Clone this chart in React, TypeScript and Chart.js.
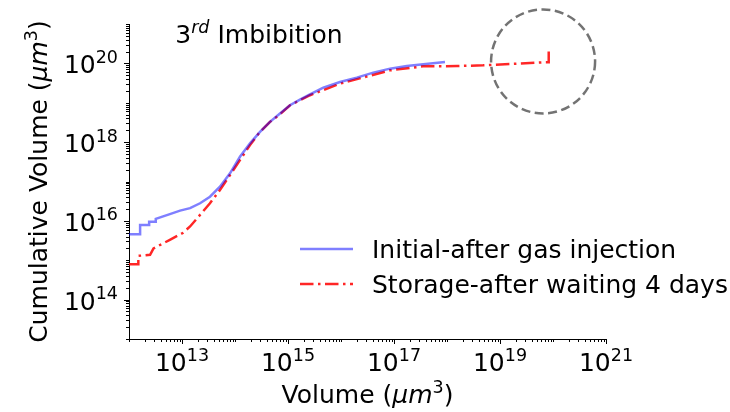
import React, { useEffect, useRef } from "react";
import { Chart, registerables } from "chart.js";

Chart.register(...registerables);

// ---- data ----
const initialVolume = [
  1.0e12, 1.62e12, 1.62e12, 2.4e12, 2.4e12, 3.2e12, 3.2e12, 5.9e12, 9.2e12, 1.42e13,
  2.19e13, 3.37e13, 5.2e13, 8.05e13, 1.24e14, 1.92e14, 2.96e14, 4.57e14, 7.06e14, 1.09e15,
  1.68e15, 2.6e15, 4.63e15, 9.57e15, 1.98e16, 4.06e16, 8.41e16, 1.74e17, 3.57e17, 9.16e17,
];
const initialCumulative = [
  4.6e15, 4.6e15, 7.9e15, 7.9e15, 9.5e15, 9.5e15, 1.12e16, 1.48e16, 1.82e16, 2.1e16,
  2.8e16, 4.1e16, 7.4e16, 1.61e17, 4.25e17, 9.3e17, 1.82e18, 3.27e18, 5.33e18, 8.65e18,
  1.2e19, 1.64e19, 2.43e19, 3.37e19, 4.35e19, 5.82e19, 7.35e19, 8.55e19, 9.44e19, 1.08e20,
];
const storageVolume = [
  1.0e12, 1.5e12, 1.5e12, 2.5e12, 2.9e12, 5.9e12, 1.05e13, 1.42e13, 2.19e13, 3.37e13,
  5.2e13, 8.05e13, 1.24e14, 1.92e14, 2.96e14, 4.57e14, 7.06e14, 1.09e15, 2.6e15, 9.57e15,
  8.41e16, 3.52e17, 1.55e18, 4.8e18, 7.1e19, 8.3e19, 8.3e19,
];
const storageCumulative = [
  7.9e14, 7.9e14, 1.29e15, 1.38e15, 2.0e15, 3.3e15, 5.0e15, 7.2e15, 1.42e16, 2.8e16,
  6.1e16, 1.46e17, 3.5e17, 8.4e17, 1.82e18, 3.27e18, 5.1e18, 8.65e18, 1.55e19, 3.06e19,
  6.65e19, 8.4e19, 8.55e19, 8.9e19, 1.07e20, 1.07e20, 2.55e20,
];
const xLabelExponents = [13, 15, 17, 19, 21];
const yLabelExponents = [14, 16, 18, 20];
const seriesNames = ["Initial-after gas injection", "Storage-after waiting 4 days"];
const highlightVolume = 6.5e19;
const highlightCumulative = 1.12e20;

// ---- styles ----
const FONT = '"DejaVu Sans"';
const SIZE = 25;
const BLUE = "rgba(0,0,255,0.5)";
const RED = "rgba(255,0,0,0.85)";
const RED_DASH = [13.5, 4.5, 2.5, 4.5];

type Seg = { t: string; it?: boolean; sup?: boolean };

function segFont(s: Seg) {
  return `${s.it ? "italic " : ""}${s.sup ? SIZE * 0.7 : SIZE}px ${FONT}`;
}

function drawRich(ctx: CanvasRenderingContext2D, segs: Seg[], x: number, y: number, align: "left" | "center" | "right") {
  ctx.textAlign = "left";
  ctx.textBaseline = "alphabetic";
  const widths = segs.map((s) => {
    ctx.font = segFont(s);
    return ctx.measureText(s.t).width;
  });
  const total = widths.reduce((a, b) => a + b, 0);
  let cx = align === "left" ? x : align === "center" ? x - total / 2 : x - total;
  segs.forEach((s, i) => {
    ctx.font = segFont(s);
    ctx.fillText(s.t, cx, y - (s.sup ? SIZE * 0.42 : 0));
    cx += widths[i];
  });
}

const decorations = {
  id: "decorations",
  afterDraw(chart: any) {
    const { ctx, chartArea: a, scales } = chart;
    const xs = scales.x;
    const ys = scales.y;
    ctx.save();
    ctx.strokeStyle = "#000";
    ctx.fillStyle = "#000";
    ctx.lineWidth = 1;

    // tick marks (major at labelled decades, minor elsewhere)
    for (let e = 12; e <= 21; e++) {
      for (let m = 1; m <= 9; m++) {
        const v = m * Math.pow(10, e);
        if (v >= xs.min * 0.999 && v <= xs.max * 1.001) {
          const px = Math.round(xs.getPixelForValue(v)) + 0.5;
          const len = m === 1 && xLabelExponents.includes(e) ? 5 : 3;
          ctx.beginPath();
          ctx.moveTo(px, a.bottom);
          ctx.lineTo(px, a.bottom + len);
          ctx.stroke();
        }
        if (v >= ys.min * 0.999 && v <= ys.max * 1.001) {
          const py = Math.round(ys.getPixelForValue(v)) + 0.5;
          const len = m === 1 && yLabelExponents.includes(e) ? 5 : 3;
          ctx.beginPath();
          ctx.moveTo(a.left, py);
          ctx.lineTo(a.left - len, py);
          ctx.stroke();
        }
      }
    }

    // tick labels
    ctx.fillStyle = "#000";
    xLabelExponents.forEach((e) => {
      const px = xs.getPixelForValue(Math.pow(10, e));
      drawRich(ctx, [{ t: "10" }, { t: String(e), sup: true }], px, a.bottom + 32, "center");
    });
    yLabelExponents.forEach((e) => {
      const py = ys.getPixelForValue(Math.pow(10, e));
      drawRich(ctx, [{ t: "10" }, { t: String(e), sup: true }], a.left - 11, py + 10, "right");
    });

    // axis titles
    drawRich(
      ctx,
      [{ t: "Volume (" }, { t: "μm", it: true }, { t: "3", sup: true }, { t: ")" }],
      (a.left + a.right) / 2,
      403,
      "center"
    );
    ctx.save();
    ctx.translate(47, (a.top + a.bottom) / 2);
    ctx.rotate(-Math.PI / 2);
    drawRich(
      ctx,
      [{ t: "Cumulative Volume (" }, { t: "μm", it: true }, { t: "3", sup: true }, { t: ")" }],
      0,
      0,
      "center"
    );
    ctx.restore();

    // panel title
    drawRich(
      ctx,
      [{ t: "3" }, { t: "rd", it: true, sup: true }, { t: " Imbibition" }],
      a.left + 0.097 * (a.right - a.left),
      a.top + 19,
      "left"
    );

    // highlight circle
    const cx = xs.getPixelForValue(highlightVolume);
    const cy = ys.getPixelForValue(highlightCumulative);
    ctx.beginPath();
    ctx.setLineDash([9, 4.5]);
    ctx.lineWidth = 2.5;
    ctx.strokeStyle = "rgba(90,90,90,0.85)";
    ctx.arc(cx, cy, 52, 0, Math.PI * 2);
    ctx.stroke();
    ctx.setLineDash([]);

    // legend
    const lx0 = 300;
    const lx1 = 353;
    const rows = [249, 284];
    const styles = [
      { color: BLUE, dash: [] as number[] },
      { color: RED, dash: RED_DASH },
    ];
    rows.forEach((ry, i) => {
      ctx.beginPath();
      ctx.lineCap = "butt";
      ctx.lineWidth = 2.5;
      ctx.strokeStyle = styles[i].color;
      ctx.setLineDash(styles[i].dash);
      ctx.moveTo(lx0, ry);
      ctx.lineTo(lx1, ry);
      ctx.stroke();
      ctx.setLineDash([]);
      ctx.fillStyle = "#000";
      drawRich(ctx, [{ t: seriesNames[i] }], 372, ry + 9, "left");
    });

    ctx.restore();
  },
};

export default function App() {
  const ref = useRef<HTMLCanvasElement | null>(null);
  useEffect(() => {
    if (!ref.current) return;
    const chart = new Chart(ref.current, {
      type: "line",
      data: {
        datasets: [
          {
            label: seriesNames[0],
            data: initialVolume.map((v, i) => ({ x: v, y: initialCumulative[i] })),
            borderColor: BLUE,
            borderWidth: 2.5,
            pointRadius: 0,
            tension: 0,
            fill: false,
          },
          {
            label: seriesNames[1],
            data: storageVolume.map((v, i) => ({ x: v, y: storageCumulative[i] })),
            borderColor: RED,
            borderWidth: 2.5,
            borderDash: RED_DASH,
            borderCapStyle: "butt",
            pointRadius: 0,
            tension: 0,
            fill: false,
          },
        ],
      },
      options: {
        responsive: false,
        animation: false,
        devicePixelRatio: 1,
        layout: { padding: { left: 129, right: 124, top: 24, bottom: 73 } },
        plugins: { legend: { display: false }, tooltip: { enabled: false }, title: { display: false } },
        scales: {
          x: {
            type: "logarithmic",
            min: 1e12,
            max: 1e21,
            ticks: { display: false },
            grid: { display: false, drawTicks: false },
            border: { display: true, color: "#000", width: 1 },
            afterFit: (s: any) => {
              s.height = 0;
            },
          },
          y: {
            type: "logarithmic",
            min: 1e13,
            max: 1e21,
            ticks: { display: false },
            grid: { display: false, drawTicks: false },
            border: { display: true, color: "#000", width: 1 },
            afterFit: (s: any) => {
              s.width = 0;
            },
          },
        },
      } as any,
      plugins: [decorations],
    });
    return () => chart.destroy();
  }, []);
  return (
    <div style={{ position: "fixed", left: 0, top: 0, width: 730, height: 412, background: "#fff" }}>
      <canvas ref={ref} width={730} height={412} />
    </div>
  );
}
